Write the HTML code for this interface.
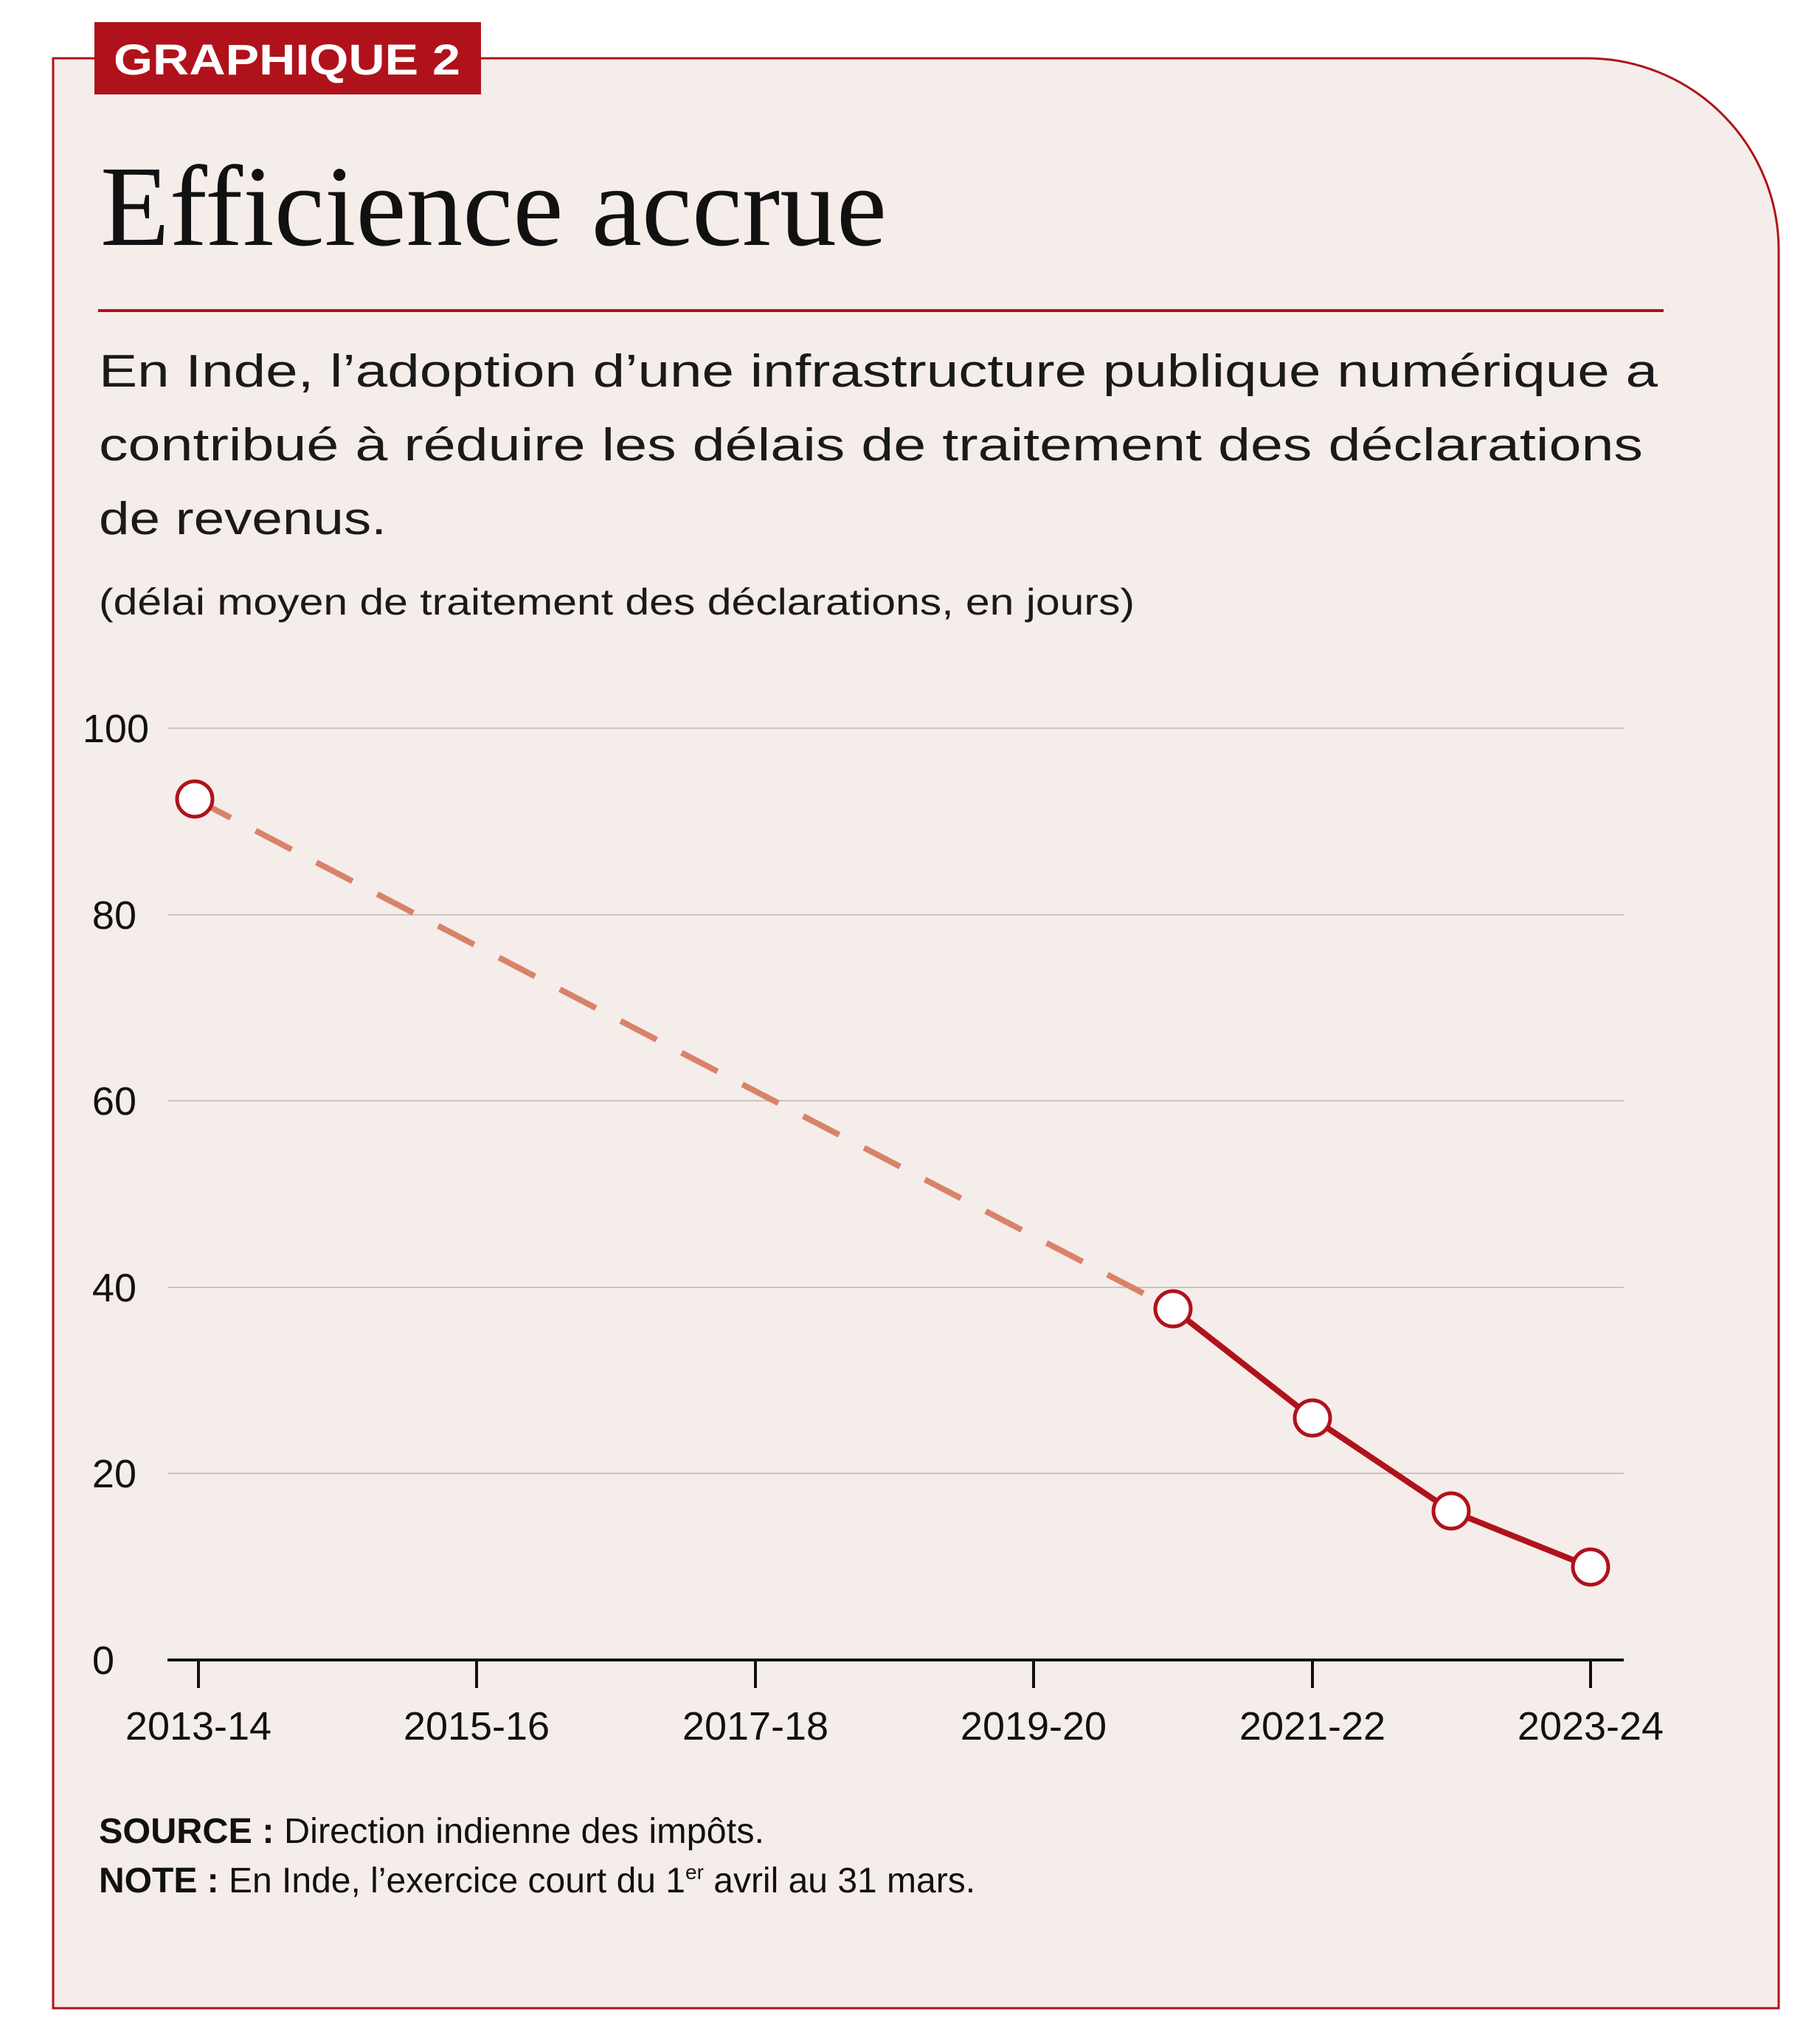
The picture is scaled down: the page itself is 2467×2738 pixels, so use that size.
<!DOCTYPE html>
<html><head><meta charset="utf-8"><style>
html,body{margin:0;padding:0;background:#fff;}
svg{display:block}
</style></head><body>
<svg width="2467" height="2738" viewBox="0 0 2467 2738" xmlns="http://www.w3.org/2000/svg">
<path d="M72 79 H2151 A260 260 0 0 1 2411 339 V2722 H72 Z" fill="#f5edea" stroke="#b0121b" stroke-width="3"/>
<rect x="128" y="30" width="524" height="98" fill="#b0121b"/>
<text x="154" y="101" textLength="470" lengthAdjust="spacingAndGlyphs" font-family="Liberation Sans, sans-serif" font-weight="bold" font-size="58" fill="#fff">GRAPHIQUE 2</text>
<text x="136" y="332" textLength="1066" lengthAdjust="spacingAndGlyphs" font-family="Liberation Serif, serif" font-size="156" fill="#111">Efficience accrue</text>
<rect x="133" y="419" width="2122" height="4" fill="#b0121b"/>
<g font-family="Liberation Sans, sans-serif" font-size="62" fill="#1a1a1a" lengthAdjust="spacingAndGlyphs">
<text x="134" y="524" textLength="2113" lengthAdjust="spacingAndGlyphs">En Inde, l’adoption d’une infrastructure publique numérique a</text>
<text x="134" y="624" textLength="2093" lengthAdjust="spacingAndGlyphs">contribué à réduire les délais de traitement des déclarations</text>
<text x="134" y="724" textLength="390" lengthAdjust="spacingAndGlyphs">de revenus.</text>
<text x="134" y="833" font-size="50" textLength="1404" lengthAdjust="spacingAndGlyphs">(délai moyen de traitement des déclarations, en jours)</text>
</g>
<g stroke="#c8c4c2" stroke-width="2">
<line x1="227" y1="987" x2="2201" y2="987"/>
<line x1="227" y1="1240" x2="2201" y2="1240"/>
<line x1="227" y1="1492" x2="2201" y2="1492"/>
<line x1="227" y1="1745" x2="2201" y2="1745"/>
<line x1="227" y1="1997" x2="2201" y2="1997"/>
</g>
<line x1="227" y1="2250" x2="2201" y2="2250" stroke="#111" stroke-width="4"/>
<g stroke="#111" stroke-width="4">
<line x1="269" y1="2250" x2="269" y2="2288"/>
<line x1="646" y1="2250" x2="646" y2="2288"/>
<line x1="1024" y1="2250" x2="1024" y2="2288"/>
<line x1="1401" y1="2250" x2="1401" y2="2288"/>
<line x1="1779" y1="2250" x2="1779" y2="2288"/>
<line x1="2156" y1="2250" x2="2156" y2="2288"/>
</g>
<g font-family="Liberation Sans Narrow, Liberation Sans, sans-serif" font-size="54" fill="#111">
<g text-anchor="end">
<text x="202" y="1006">100</text>
<text x="185" y="1259">80</text>
<text x="185" y="1511">60</text>
<text x="185" y="1764">40</text>
<text x="185" y="2016">20</text>
<text x="155" y="2269">0</text>
</g>
<g text-anchor="middle">
<text x="269" y="2358">2013-14</text>
<text x="646" y="2358">2015-16</text>
<text x="1024" y="2358">2017-18</text>
<text x="1401" y="2358">2019-20</text>
<text x="1779" y="2358">2021-22</text>
<text x="2156" y="2358">2023-24</text>
</g>
</g>
<line x1="264" y1="1083" x2="1590" y2="1774" stroke="#d9826a" stroke-width="8" stroke-dasharray="55 38"/>
<polyline points="1590,1774 1779,1922 1967,2048 2156,2124" fill="none" stroke="#b0121b" stroke-width="8"/>
<g fill="#fff" stroke="#b0121b" stroke-width="5">
<circle cx="264" cy="1083" r="24"/>
<circle cx="1590" cy="1774" r="24"/>
<circle cx="1779" cy="1922" r="24"/>
<circle cx="1967" cy="2048" r="24"/>
<circle cx="2156" cy="2124" r="24"/>
</g>
<g font-family="Liberation Sans Narrow, Liberation Sans, sans-serif" font-size="48" fill="#111">
<text x="134" y="2498" textLength="902" lengthAdjust="spacingAndGlyphs"><tspan font-weight="bold">SOURCE :</tspan> Direction indienne des impôts.</text>
<text x="134" y="2565"><tspan font-weight="bold">NOTE :</tspan> En Inde, l’exercice court du 1<tspan font-size="28" dy="-18">er</tspan><tspan dy="18"> avril au 31 mars.</tspan></text>
</g>
</svg>
</body></html>
